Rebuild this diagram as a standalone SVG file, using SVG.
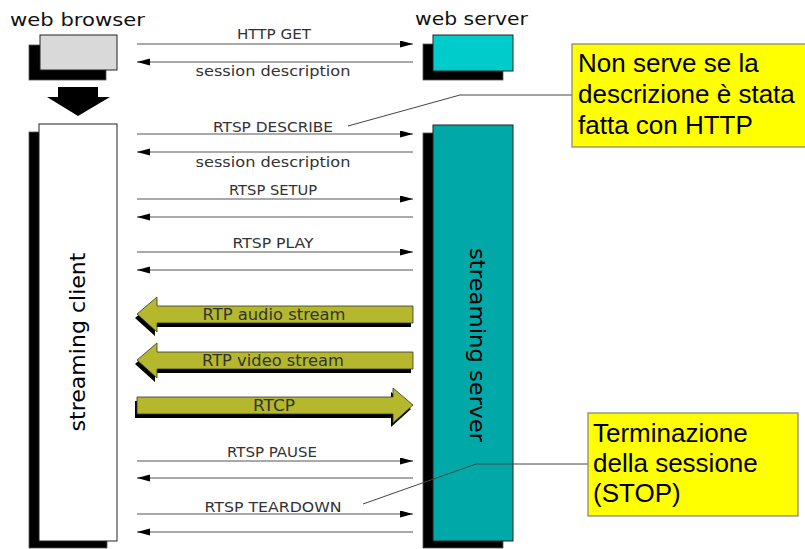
<svg xmlns="http://www.w3.org/2000/svg" width="805" height="549" viewBox="0 0 805 549">
  <defs>
    <style>
      .bg { fill: #ffffff; }
      .shadow { fill: #000000; stroke: #555555; stroke-width: 0.8; }
      .front { stroke: #222222; stroke-width: 1; }
      .title { font-family: "DejaVu Sans", "Liberation Sans", sans-serif; font-size: 18px; fill: #111111; }
      .vlabel { font-family: "DejaVu Sans", "Liberation Sans", sans-serif; font-size: 22px; fill: #000000; text-anchor: middle; }
      .msg { font-family: "DejaVu Sans", "Liberation Sans", sans-serif; font-size: 14px; fill: #333333; text-anchor: middle; }
      .msgline { stroke: #555555; stroke-width: 1; fill: none; }
      .fwd { marker-end: url(#head); }
      .stream { fill: #b5b82c; stroke: #333333; stroke-width: 0.8; }
      .streamshadow { fill: #000000; }
      .stext { font-family: "DejaVu Sans", "Liberation Sans", sans-serif; font-size: 15px; fill: #333333; text-anchor: middle; }
      .note { fill: #ffff00; stroke: #808080; stroke-width: 1.2; }
      .notetext { font-family: "Liberation Sans", Arial, sans-serif; font-size: 26px; fill: #000000; }
      .callout { stroke: #444444; stroke-width: 1; fill: none; }
    </style>
    <marker id="head" markerUnits="userSpaceOnUse" markerWidth="14" markerHeight="8" refX="13" refY="3.5" orient="auto">
      <path d="M0,0 L13,3.5 L0,7 Z" fill="#000000"/>
    </marker>
  </defs>

  <rect class="bg" x="0" y="0" width="805" height="549"/>

  <!-- web browser -->
  <g id="web-browser">
    <text class="title" x="10" y="26" textLength="135" lengthAdjust="spacingAndGlyphs">web browser</text>
    <rect class="shadow" x="29" y="45" width="77" height="35"/>
    <rect class="front" x="40" y="35" width="77" height="35" fill="#d9d9d9"/>
    <!-- hand-off arrow to the streaming client -->
    <polygon points="58,87 98,87 98,97 110,97 78,116 47,97 58,97" fill="#000000"/>
  </g>

  <!-- web server -->
  <g id="web-server">
    <text class="title" x="415" y="25" textLength="113" lengthAdjust="spacingAndGlyphs">web server</text>
    <rect class="shadow" x="423" y="44" width="80" height="36"/>
    <rect class="front" x="433" y="35" width="80" height="36" fill="#00cccc"/>
  </g>

  <!-- streaming client -->
  <g id="streaming-client">
    <rect class="shadow" x="29" y="132" width="78" height="416"/>
    <rect class="front" x="39" y="124" width="78" height="417" fill="#ffffff"/>
    <text class="vlabel" transform="translate(85,342) rotate(-90)" textLength="179" lengthAdjust="spacingAndGlyphs">streaming client</text>
  </g>

  <!-- streaming server -->
  <g id="streaming-server">
    <rect class="shadow" x="423" y="133" width="80" height="415"/>
    <rect class="front" x="433" y="125" width="80" height="416" fill="#00a8a8"/>
    <text class="vlabel" transform="translate(470,345) rotate(90)" textLength="194" lengthAdjust="spacingAndGlyphs">streaming server</text>
  </g>

  <!-- messages between client side and server side -->
  <g id="connectors">
    <line class="msgline fwd" x1="137" y1="44" x2="413" y2="44"/>
    <text class="msg" x="274" y="39" textLength="74" lengthAdjust="spacingAndGlyphs">HTTP GET</text>
    <line class="msgline fwd" x1="413" y1="62" x2="137" y2="62"/>
    <text class="msg" x="273" y="76" textLength="155" lengthAdjust="spacingAndGlyphs">session description</text>

    <line class="msgline fwd" x1="137" y1="134" x2="413" y2="134"/>
    <text class="msg" x="273" y="132" textLength="120" lengthAdjust="spacingAndGlyphs">RTSP DESCRIBE</text>
    <line class="msgline fwd" x1="413" y1="152" x2="137" y2="152"/>
    <text class="msg" x="273" y="167" textLength="155" lengthAdjust="spacingAndGlyphs">session description</text>

    <line class="msgline fwd" x1="137" y1="199" x2="413" y2="199"/>
    <text class="msg" x="273" y="195" textLength="88" lengthAdjust="spacingAndGlyphs">RTSP SETUP</text>
    <line class="msgline fwd" x1="413" y1="217" x2="137" y2="217"/>

    <line class="msgline fwd" x1="137" y1="252" x2="413" y2="252"/>
    <text class="msg" x="273" y="248" textLength="81" lengthAdjust="spacingAndGlyphs">RTSP PLAY</text>
    <line class="msgline fwd" x1="413" y1="270" x2="137" y2="270"/>

    <!-- media streams -->
    <g id="rtp-audio">
      <polygon class="streamshadow" points="135,318 155,301 155,310 411,310 411,327 155,327 155,336"/>
      <polygon class="stream" points="137,314 157,297 157,306 413,306 413,323 157,323 157,332"/>
      <text class="stext" x="274" y="320" textLength="143" lengthAdjust="spacingAndGlyphs">RTP audio stream</text>
    </g>
    <g id="rtp-video">
      <polygon class="streamshadow" points="135,364 155,347 155,356 411,356 411,373 155,373 155,382"/>
      <polygon class="stream" points="137,360 157,343 157,352 413,352 413,369 157,369 157,378"/>
      <text class="stext" x="273" y="366" textLength="142" lengthAdjust="spacingAndGlyphs">RTP video stream</text>
    </g>
    <g id="rtcp">
      <polygon class="streamshadow" points="135,401 391,401 391,392 411,409 391,427 391,418 135,418"/>
      <polygon class="stream" points="137,397 393,397 393,388 413,405 393,423 393,414 137,414"/>
      <text class="stext" x="274" y="411" textLength="42" lengthAdjust="spacingAndGlyphs">RTCP</text>
    </g>

    <line class="msgline fwd" x1="137" y1="461" x2="413" y2="461"/>
    <text class="msg" x="272" y="457" textLength="90" lengthAdjust="spacingAndGlyphs">RTSP PAUSE</text>
    <line class="msgline fwd" x1="413" y1="478" x2="137" y2="478"/>

    <line class="msgline fwd" x1="137" y1="514" x2="413" y2="514"/>
    <text class="msg" x="273" y="512" textLength="137" lengthAdjust="spacingAndGlyphs">RTSP TEARDOWN</text>
    <line class="msgline fwd" x1="413" y1="532" x2="137" y2="532"/>

    <!-- note callouts -->
    <polyline class="callout" points="348,126 460,95 572,95"/>
    <polyline class="callout" points="363,504 476,464 588,464"/>
  </g>

  <!-- note about DESCRIBE -->
  <g id="note-describe">
    <rect class="note" x="572" y="44" width="240" height="103"/>
    <text class="notetext" x="578" y="72">Non serve se la</text>
    <text class="notetext" x="578" y="103">descrizione è stata</text>
    <text class="notetext" x="578" y="134">fatta con HTTP</text>
  </g>

  <!-- note about TEARDOWN -->
  <g id="note-stop">
    <rect class="note" x="588" y="413" width="210" height="103"/>
    <text class="notetext" x="593" y="442">Terminazione</text>
    <text class="notetext" x="593" y="472">della sessione</text>
    <text class="notetext" x="593" y="502">(STOP)</text>
  </g>
</svg>
